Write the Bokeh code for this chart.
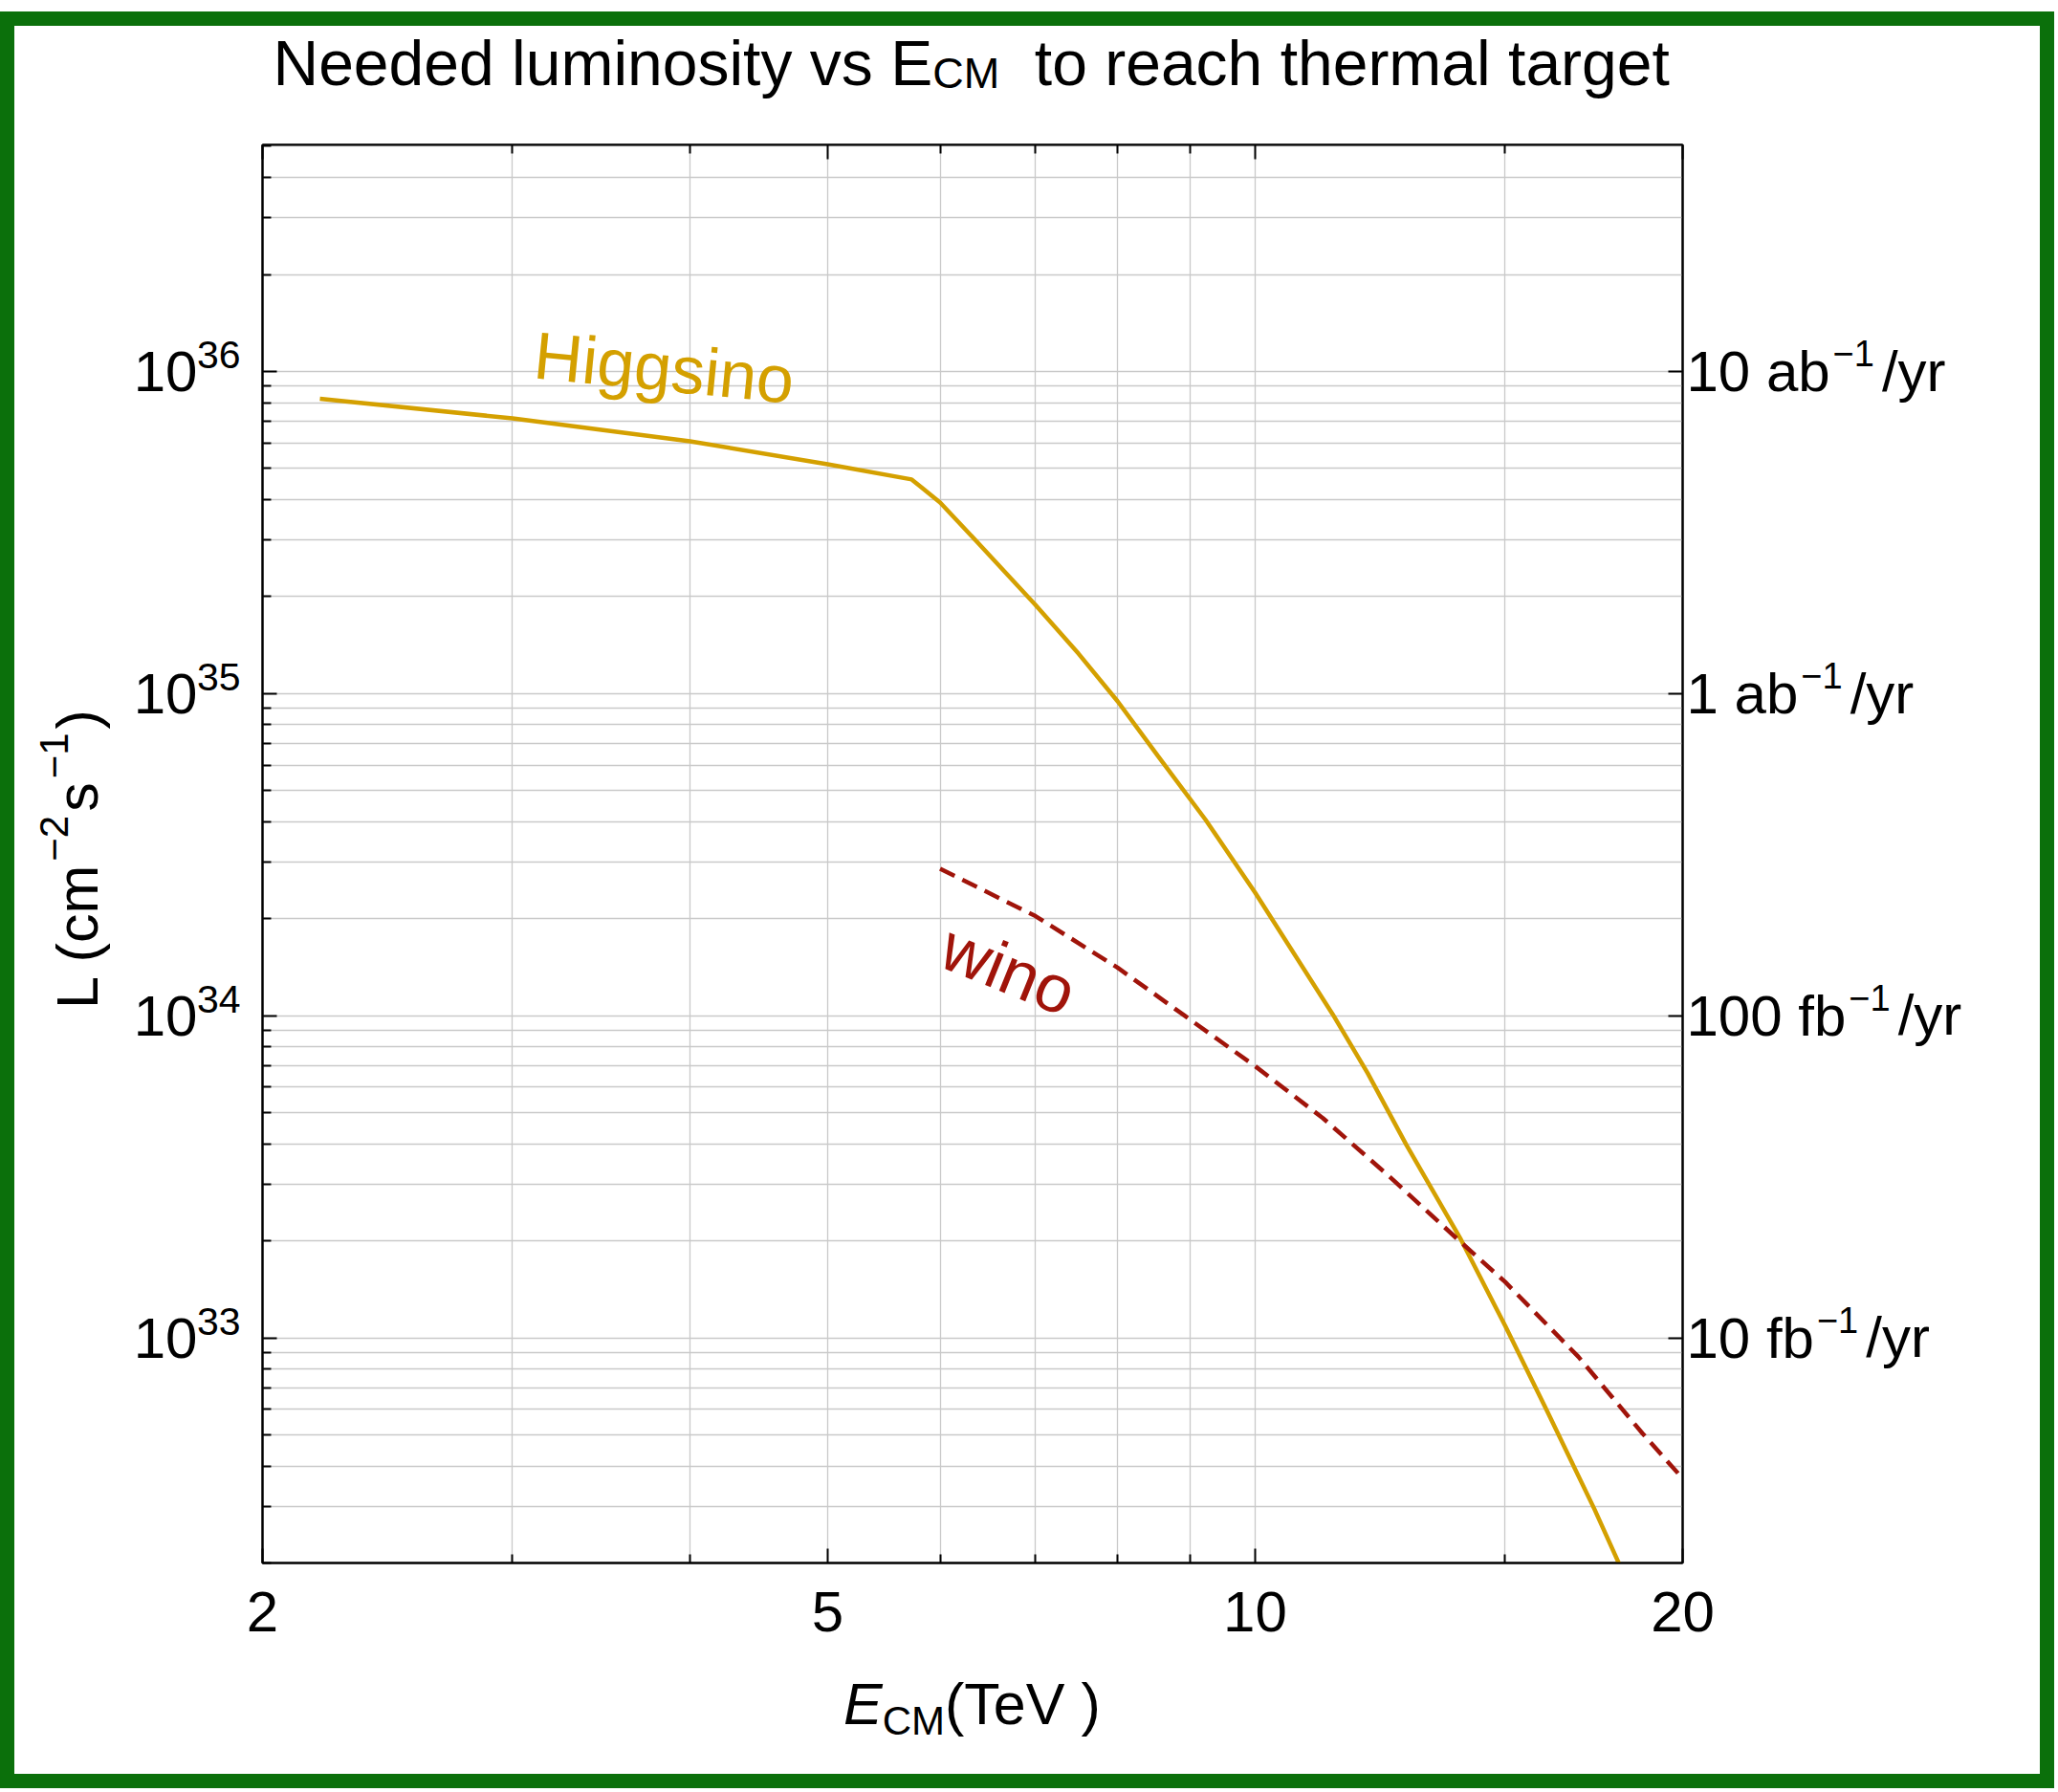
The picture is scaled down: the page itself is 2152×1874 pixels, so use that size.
import math
from bokeh.plotting import figure
from bokeh.models import (Range1d, LogAxis, FixedTicker, CustomJSTickFormatter, Label,
                          Div, GridBox)
from bokeh.embed import file_html
from bokeh.resources import INLINE

# ---------------- data ----------------
E_higgsino = [2.195, 3.0, 4.0, 5.0, 5.73, 6.0, 6.36, 7.0, 7.51, 8.0, 8.54, 9.23,
              10.0, 11.34, 12.0, 12.78, 13.96, 15.0, 16.05, 17.34, 18.05, 18.3]
L_higgsino = [8.22e35, 7.15e35, 6.07e35, 5.15e35, 4.62e35, 3.92e35, 2.98e35, 1.89e35,
              1.33e35, 9.47e34, 6.41e34, 4.05e34, 2.41e34, 1.01e34, 6.64e33, 3.97e33,
              2.02e33, 1.09e33, 5.94e32, 2.93e32, 1.98e32, 1.72e32]

E_wino = [6.0, 7.0, 8.0, 8.92, 10.0, 11.16, 12.39, 13.96, 15.0, 16.89, 18.74, 20.0]
L_wino = [2.86e34, 2.04e34, 1.41e34, 1.0e34, 6.97e33, 4.81e33, 3.21e33, 1.98e33,
          1.49e33, 8.73e32, 5.05e32, 3.66e32]

x_major = [2, 5, 10, 20]
x_minor = [3, 4, 6, 7, 8, 9, 15]
y_exponents = [33, 34, 35, 36]
y_major = [10.0 ** n for n in y_exponents]
y_minor = [k * 10.0 ** n for n in range(32, 37) for k in range(2, 10)]
right_labels = ["10 fb", "100 fb", "1 ab", "10 ab"]   # for 1e33 .. 1e36

X_MIN, X_MAX = 2.0, 20.0
Y_MIN, Y_MAX = 2.0e32, 5.05e36

FONT = "Liberation Sans"
GOLD = "#D4A000"
RED = "#A0140A"
GRID = "#c9c9c9"
GREEN = "#0B700B"

W, H = 2148, 1870
FL, FT, FW, FH = 274.0, 151.0, 1485.0, 1483.0

# ---------------- main figure ----------------
p = figure(width=W, height=H, x_axis_type="log", y_axis_type="log",
           x_range=Range1d(X_MIN, X_MAX), y_range=Range1d(Y_MIN, Y_MAX),
           output_backend="svg", toolbar_location=None,
           min_border_left=int(FL), min_border_right=int(W - FL - FW),
           min_border_top=int(FT), min_border_bottom=int(H - FT - FH),
           background_fill_color="white", border_fill_color=None)
p.outline_line_color = "black"
p.outline_line_width = 2

xticker = FixedTicker(ticks=x_major, minor_ticks=x_minor)
yticker = FixedTicker(ticks=y_major, minor_ticks=y_minor)
yticker_r = FixedTicker(ticks=y_major, minor_ticks=[])


def style_axis(ax):
    ax.axis_line_color = "black"
    ax.axis_line_width = 2
    ax.major_tick_in = 15
    ax.major_tick_out = 0
    ax.minor_tick_in = 9
    ax.minor_tick_out = 0
    ax.major_tick_line_width = 2
    ax.minor_tick_line_width = 2
    ax.major_tick_line_color = "black"
    ax.minor_tick_line_color = "black"
    ax.major_label_text_font = FONT
    ax.major_label_text_font_size = "60px"
    ax.major_label_text_color = "black"


xb = p.xaxis[0]
xb.ticker = xticker
style_axis(xb)
xb.major_label_standoff = 30

yl = p.yaxis[0]
yl.ticker = yticker
style_axis(yl)
yl.formatter = CustomJSTickFormatter(code="return '10';")
yl.major_label_standoff = 68

xt = LogAxis(ticker=xticker)
style_axis(xt)
xt.formatter = CustomJSTickFormatter(code="return '';")
xt.major_label_standoff = 0
p.add_layout(xt, "above")

yr = LogAxis(ticker=yticker_r)
style_axis(yr)
yr.formatter = CustomJSTickFormatter(args=dict(labs=right_labels),
                                     code="return labs[Math.round(Math.log10(tick)) - 33];")
yr.major_label_standoff = 4
p.add_layout(yr, "right")

for g, t in ((p.xgrid[0], xticker), (p.ygrid[0], yticker)):
    g.ticker = t
    g.grid_line_color = GRID
    g.grid_line_width = 1.3
    g.minor_grid_line_color = GRID
    g.minor_grid_line_width = 1.3

# ---------------- curves ----------------
p.line(E_higgsino, L_higgsino, line_color=GOLD, line_width=4.5)
p.line(E_wino, L_wino, line_color=RED, line_width=4.5, line_dash="17 9")

# ---------------- helpers: reference pixel -> coordinates ----------------
LX0, LX1 = math.log10(X_MIN), math.log10(X_MAX)
LY0, LY1 = math.log10(Y_MIN), math.log10(Y_MAX)
K = 0.36   # baseline correction for Bokeh labels (fraction of font size)


def X(px):
    return 10 ** (LX0 + (px - FL) / FW * (LX1 - LX0))


def Y(py):
    return 10 ** (LY1 - (py - FT) / FH * (LY1 - LY0))


def tick_py(v):
    return FT + (LY1 - math.log10(v)) / (LY1 - LY0) * FH


# curve labels (inside the frame)
for txt, px, py, size, ang, col in (("Higgsino", 556, 396, 70, -0.098, GOLD),
                                    ("wino", 978, 1010, 70, -0.384, RED)):
    cx = px - K * size * math.sin(ang)
    cy = py - K * size * math.cos(ang)
    p.add_layout(Label(x=X(cx), y=Y(cy), text=txt, text_font=FONT,
                       text_font_size=f"{size}px", text_color=col, angle=ang,
                       text_align="left", text_baseline="alphabetic"))

# ---------------- HTML layer (behind the plot) for composite texts ----------------
ASC = 0.8465   # baseline position inside a line box with line-height 1 (Liberation Sans)
parts = []


def put(html, px, base_y, size, rotate=False):
    if rotate:
        style = (f"left:{px - ASC * size:.1f}px;top:{base_y:.1f}px;"
                 "transform:rotate(-90deg);transform-origin:0 0;")
    else:
        style = f"left:{px:.1f}px;top:{base_y - ASC * size:.1f}px;"
    parts.append(f'<div style="position:absolute;{style}font-size:{size}px">{html}</div>')


def sub(t, size, dy, extra=""):
    return (f'<span style="font-size:{size}px;position:relative;top:{dy}px;{extra}">'
            f'{t}</span>')


MINUS = "\u2212"

# title
put("Needed luminosity vs E" + sub("CM", 45, 3) + "&nbsp; to reach thermal target",
    285.5, 88.5, 66)

# x axis title
put('<i>E</i>' + sub("CM", 42, 11) + "(TeV )", 882, 1804, 61)

# y axis title (rotated, reads bottom to top)
put("L (cm" + sub(MINUS + "2", 42, -31, "margin:0 4px") + "s"
    + sub(MINUS + "1", 42, -31, "margin:0 4px") + ")", 103, 1055, 61, rotate=True)

# exponents of the left tick labels
for n, v in zip(y_exponents, y_major):
    put(str(n), 206, tick_py(v) - 2, 41)

# superscripts and "/yr" of the right tick labels
CW = {"0": 556, "1": 556, " ": 278, "a": 556, "b": 556, "f": 278}
for txt, v in zip(right_labels, y_major):
    w = sum(CW[c] for c in txt) * 0.060
    sx = FL + FW + 4.5 + w + 3
    put(sub(MINUS + "1", 38, -25.5, "margin-right:8px") + "/yr", sx, tick_py(v) + 21.5, 60)

border = (f'<div style="position:absolute;left:0;top:12px;width:{W}px;height:{H - 12}px;'
          f'box-sizing:border-box;border:15px solid {GREEN}"></div>')

html = (f'<div style="position:relative;width:{W}px;height:{H}px;background:white;'
        f"font-family:'{FONT}';color:black;line-height:1;white-space:nowrap\">"
        + border + "".join(parts) + "</div>")

layer = Div(text=html, width=W, height=H, margin=0)
p.margin = 0

layout = GridBox(children=[(layer, 0, 0), (p, 0, 0)])

open("out.html", "w").write(file_html(layout, INLINE))
